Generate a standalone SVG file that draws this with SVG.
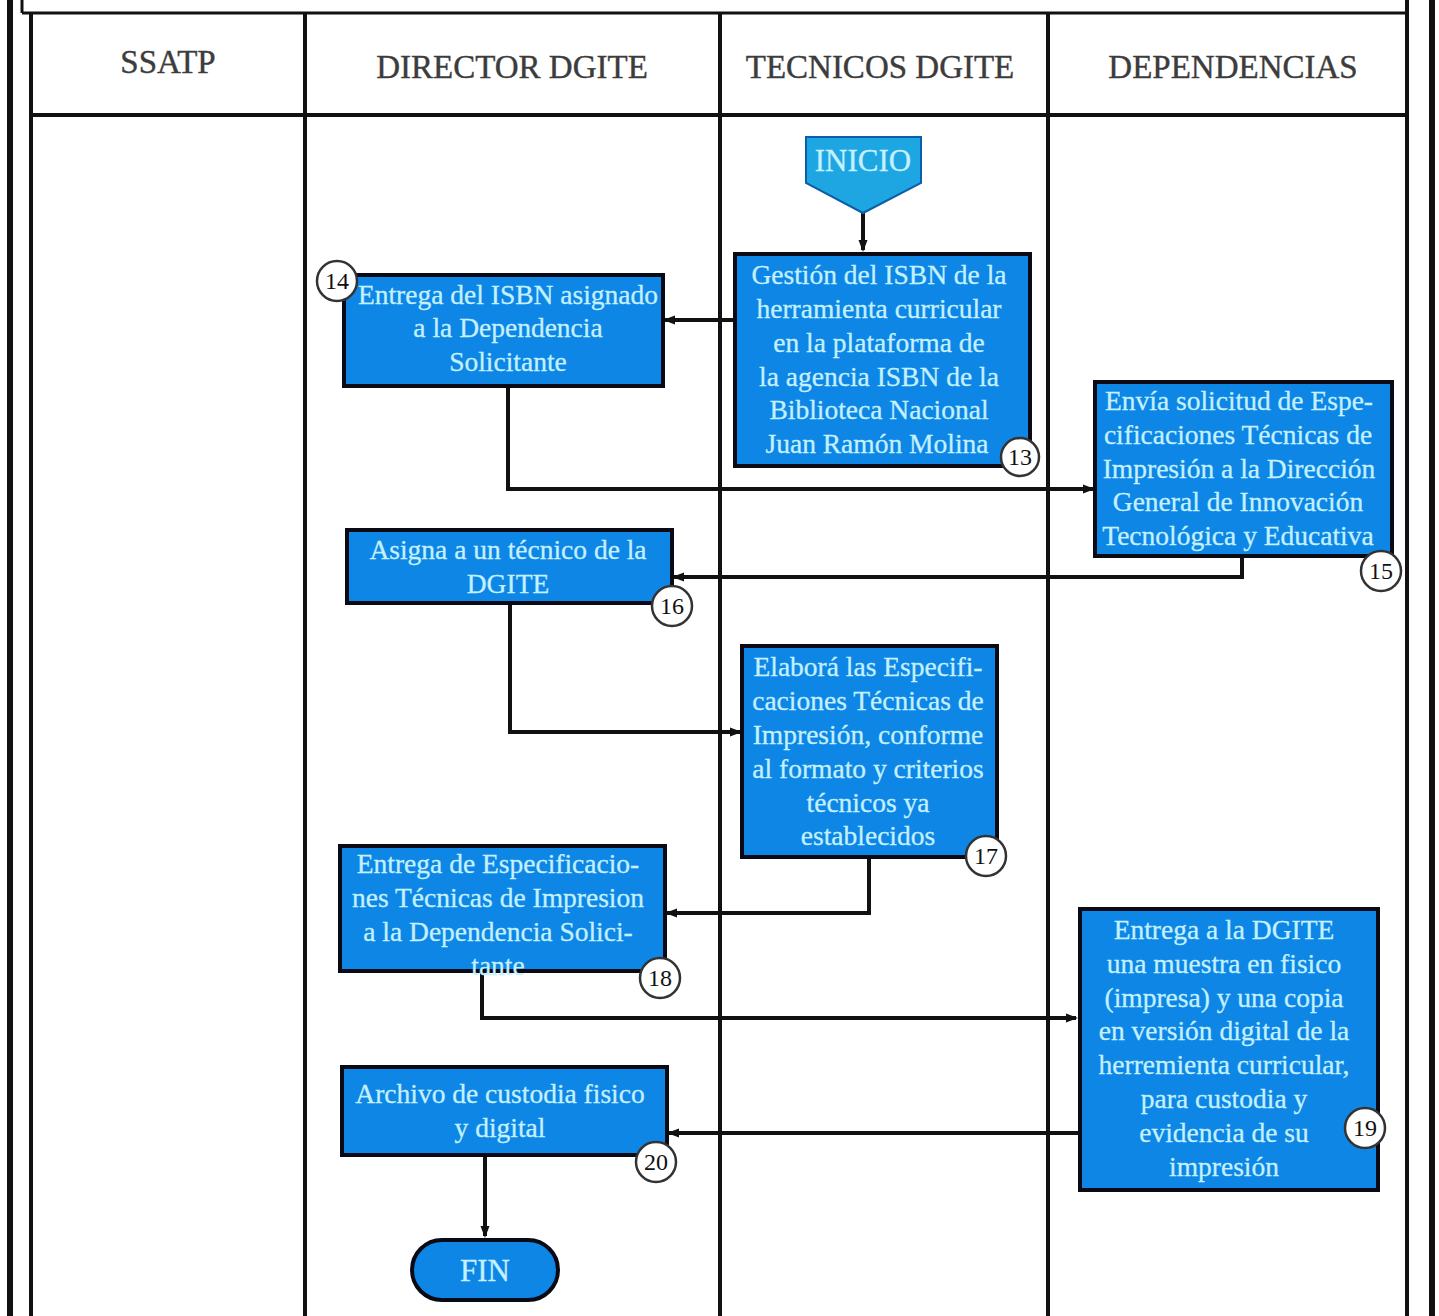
<svg xmlns="http://www.w3.org/2000/svg" width="1439" height="1316" viewBox="0 0 1439 1316">
<style>
.frame{stroke:#111;fill:none}
.hdr{font-family:"Liberation Serif",serif;font-size:33px;fill:#3c3c3c;stroke:#3c3c3c;stroke-width:0.4;text-anchor:middle}
.box{fill:#0d86e6;stroke:#0a0a14;stroke-width:4}
.start{fill:#1ea6e2;stroke:#0b5fa8;stroke-width:2}
.t{font-family:"Liberation Serif",serif;font-size:27.5px;fill:#c4f0ff;stroke:#c4f0ff;stroke-width:0.3;text-anchor:middle}
.num{fill:#fff;stroke:#333;stroke-width:2.5}
.nt{font-family:"Liberation Serif",serif;font-size:24px;fill:#111;text-anchor:middle}
.conn{fill:none;stroke:#111;stroke-width:4}
</style>
<defs>
<marker id="ah" markerWidth="12" markerHeight="12" refX="10" refY="6" orient="auto" markerUnits="userSpaceOnUse" viewBox="0 0 12 12">
<path d="M0,1.5 L12,6 L0,10.5 Z" fill="#111"/>
</marker>
</defs>
<rect width="1439" height="1316" fill="#fff"/>
<g id="frame">
<line class="frame" x1="10" y1="0" x2="10" y2="1316" stroke-width="6"/>
<line class="frame" x1="1432" y1="0" x2="1432" y2="1316" stroke-width="6"/>
<line class="frame" x1="22" y1="0" x2="22" y2="13" stroke-width="3"/>
<line class="frame" x1="22" y1="13" x2="1407" y2="13" stroke-width="3"/>
<line class="frame" x1="31" y1="13" x2="31" y2="1316" stroke-width="4"/>
<line class="frame" x1="1407" y1="0" x2="1407" y2="1316" stroke-width="4"/>
<line class="frame" x1="31" y1="115" x2="1407" y2="115" stroke-width="4"/>
<line class="frame" x1="305" y1="13" x2="305" y2="1316" stroke-width="4"/>
<line class="frame" x1="720" y1="13" x2="720" y2="1316" stroke-width="4"/>
<line class="frame" x1="1048" y1="13" x2="1048" y2="1316" stroke-width="4"/>
</g>
<g id="headers">
<text class="hdr" x="168" y="73">SSATP</text>
<text class="hdr" x="512" y="78">DIRECTOR DGITE</text>
<text class="hdr" x="880" y="78">TECNICOS DGITE</text>
<text class="hdr" x="1233" y="78">DEPENDENCIAS</text>
</g>
<g id="connectors">
<path class="conn" d="M863,213 L863,250" stroke-width="3" marker-end="url(#ah)"/>
<path class="conn" d="M735,320 L665,320" marker-end="url(#ah)"/>
<path class="conn" d="M508,386 L508,489 L1093,489" marker-end="url(#ah)"/>
<path class="conn" d="M1242,556 L1242,577 L674,577" marker-end="url(#ah)"/>
<path class="conn" d="M510,603 L510,732 L740,732" marker-end="url(#ah)"/>
<path class="conn" d="M869,857 L869,913 L667,913" marker-end="url(#ah)"/>
<path class="conn" d="M482,971 L482,1018 L1076,1018" marker-end="url(#ah)"/>
<path class="conn" d="M1080,1133 L669,1133" marker-end="url(#ah)"/>
<path class="conn" d="M485,1155 L485,1236" marker-end="url(#ah)"/>
</g>
<g id="inicio">
<path class="start" d="M806,137 L921,137 L921,183 L863,213 L806,183 Z"/>
<text class="t" x="863" y="171" style="font-size:31px">INICIO</text>
</g>
<g id="n13">
<rect class="box" x="735" y="254" width="295" height="212"/>
<text class="t" x="879" y="284">Gestión del ISBN de la</text>
<text class="t" x="879" y="318">herramienta curricular</text>
<text class="t" x="879" y="352">en la plataforma de</text>
<text class="t" x="879" y="386">la agencia ISBN de la</text>
<text class="t" x="879" y="419">Biblioteca Nacional</text>
<text class="t" x="877" y="453">Juan Ramón Molina</text>
<circle class="num" cx="1020" cy="457" r="19"/>
<text class="nt" x="1020" y="465">13</text>
</g>
<g id="n14">
<rect class="box" x="344" y="275" width="319" height="111"/>
<text class="t" x="508" y="304">Entrega del ISBN asignado</text>
<text class="t" x="508" y="337">a la Dependencia</text>
<text class="t" x="508" y="371">Solicitante</text>
<circle class="num" cx="337" cy="281" r="20"/>
<text class="nt" x="337" y="289">14</text>
</g>
<g id="n15">
<rect class="box" x="1095" y="382" width="297" height="174"/>
<text class="t" x="1239" y="410">Envía solicitud de Espe-</text>
<text class="t" x="1238" y="444">cificaciones Técnicas de</text>
<text class="t" x="1239" y="478">Impresión a la Dirección</text>
<text class="t" x="1238" y="511">General de Innovación</text>
<text class="t" x="1238" y="545">Tecnológica y Educativa</text>
<circle class="num" cx="1381" cy="571" r="20"/>
<text class="nt" x="1381" y="579">15</text>
</g>
<g id="n16">
<rect class="box" x="347" y="530" width="325" height="73"/>
<text class="t" x="508" y="559">Asigna a un técnico de la</text>
<text class="t" x="508" y="593">DGITE</text>
<circle class="num" cx="672" cy="606" r="20"/>
<text class="nt" x="672" y="614">16</text>
</g>
<g id="n17">
<rect class="box" x="742" y="646" width="255" height="211"/>
<text class="t" x="868" y="676">Elaborá las Especifi-</text>
<text class="t" x="868" y="710">caciones Técnicas de</text>
<text class="t" x="868" y="744">Impresión, conforme</text>
<text class="t" x="868" y="778">al formato y criterios</text>
<text class="t" x="868" y="812">técnicos ya</text>
<text class="t" x="868" y="845">establecidos</text>
<circle class="num" cx="986" cy="856" r="20"/>
<text class="nt" x="986" y="864">17</text>
</g>
<g id="n18">
<rect class="box" x="340" y="846" width="325" height="125"/>
<text class="t" x="498" y="873">Entrega de Especificacio-</text>
<text class="t" x="498" y="907">nes Técnicas de Impresion</text>
<text class="t" x="498" y="941">a la Dependencia Solici-</text>
<text class="t" x="498" y="975">tante</text>
<circle class="num" cx="660" cy="978" r="20"/>
<text class="nt" x="660" y="986">18</text>
</g>
<g id="n19">
<rect class="box" x="1080" y="909" width="298" height="281"/>
<text class="t" x="1224" y="939">Entrega a la DGITE</text>
<text class="t" x="1224" y="973">una muestra en fisico</text>
<text class="t" x="1224" y="1007">(impresa) y una copia</text>
<text class="t" x="1224" y="1040">en versión digital de la</text>
<text class="t" x="1224" y="1074">herremienta curricular,</text>
<text class="t" x="1224" y="1108">para custodia y</text>
<text class="t" x="1224" y="1142">evidencia de su</text>
<text class="t" x="1224" y="1176">impresión</text>
<circle class="num" cx="1365" cy="1128" r="20"/>
<text class="nt" x="1365" y="1136">19</text>
</g>
<g id="n20">
<rect class="box" x="342" y="1067" width="325" height="88"/>
<text class="t" x="500" y="1103">Archivo de custodia fisico</text>
<text class="t" x="500" y="1137">y digital</text>
<circle class="num" cx="656" cy="1162" r="20"/>
<text class="nt" x="656" y="1170">20</text>
</g>
<g id="fin">
<rect class="box" x="412" y="1240" width="146" height="60" rx="30"/>
<text class="t" x="485" y="1281" style="font-size:31px">FIN</text>
</g>
</svg>
